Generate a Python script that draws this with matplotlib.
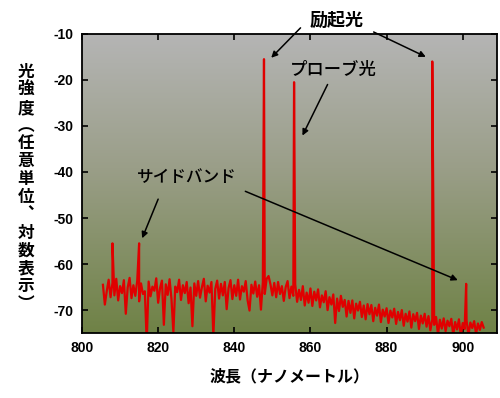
import numpy as np
import matplotlib
matplotlib.use("Agg")
import matplotlib.pyplot as plt
from matplotlib.colors import LinearSegmentedColormap

plt.rcParams['axes.unicode_minus'] = False
JP = ['Noto Sans CJK JP', 'DejaVu Sans']
NUM = ['Liberation Sans', 'DejaVu Sans']

# spectrum background, 0.5 nm steps from 805.5 to 905.5 nm (dB)
wl_start, wl_end = 805.5, 905.5
spec_db = [
    -64.5, -68.8, -65.9, -63.4, -67.2, -64.1, -66.8, -63.2, -67.9, -64.8,
    -66.3, -63.5, -70.8, -65.1, -63.0, -67.4, -64.6, -66.9, -63.7, -68.1,
    -64.2, -66.5, -65.9, -77.0, -63.8, -67.0, -64.9, -65.8, -63.1, -68.4,
    -65.2, -63.6, -73.2, -64.4, -66.7, -63.3, -67.6, -74.8, -64.9, -66.1,
    -63.4, -67.8, -64.6, -66.3, -63.9, -68.5, -65.1, -73.5, -64.2, -66.9,
    -63.7, -67.3, -65.0, -63.2, -68.1, -64.7, -66.2, -63.9, -75.6, -65.4,
    -63.6, -67.5, -64.3, -66.8, -63.9, -69.8, -65.2, -63.5, -67.6, -64.6,
    -66.9, -63.4, -67.7, -64.8, -66.0, -63.7, -67.9, -70.1, -64.5, -66.4,
    -63.8, -67.1, -64.6, -69.9, -63.9, -66.5, -63.2, -62.6, -64.4, -66.8,
    -64.1, -67.2, -63.9, -66.5, -64.8, -68.0, -65.0, -63.7, -67.4, -64.9,
    -66.9, -64.4, -68.2, -65.6, -67.8, -64.8, -69.0, -66.2, -68.4, -65.3,
    -69.1, -66.0, -67.9, -65.5, -69.4, -66.8, -68.3, -65.9, -70.0, -67.2,
    -68.8, -66.6, -72.8, -67.5, -70.2, -66.9, -69.3, -67.8, -71.4, -68.0,
    -70.6, -67.9, -71.8, -68.6, -70.1, -68.2, -71.5, -69.0, -72.0, -68.7,
    -70.9, -68.9, -72.4, -69.5, -71.2, -68.8, -72.6, -69.9, -71.4, -69.6,
    -72.8, -70.1, -71.6, -69.7, -73.0, -70.4, -72.2, -70.0, -73.4, -70.8,
    -72.5, -70.3, -73.8, -70.9, -72.4, -70.6, -74.1, -71.2, -72.9, -70.8,
    -73.6, -71.3, -74.4, -72.0, -73.2, -71.5, -75.3, -72.1, -74.0, -71.8,
    -74.6, -72.3, -73.5, -71.9, -75.4, -72.6, -74.2, -72.0, -75.6, -72.8,
    -74.1, -72.2, -75.5, -72.7, -73.9, -72.4, -75.2, -72.9, -74.3, -72.6,
    -73.8,
]

# sharp lines
peak_wl = [808.0, 815.0, 847.8, 855.7, 892.0, 900.9]
peak_db = [-55.5, -55.5, -15.5, -20.5, -16.0, -64.3]

xticks = [800, 820, 840, 860, 880, 900]
yticks = [-10, -20, -30, -40, -50, -60, -70]

ylabel_chars = ['光', '強', '度', '︵', '任', '意', '単', '位', '︑',
                '対', '数', '表', '示', '︶']


def main():
    wl = np.linspace(wl_start, wl_end, len(spec_db))
    all_wl = np.concatenate([wl, peak_wl])
    all_db = np.concatenate([spec_db, peak_db])
    order = np.argsort(all_wl)

    fig = plt.figure(figsize=(5, 3.98), dpi=100)
    ax = fig.add_axes([0.164, 0.163, 0.83, 0.752])
    ax.set_xlim(800, 909)
    ax.set_ylim(-75, -10)

    # grey -> olive background
    cmap = LinearSegmentedColormap.from_list(
        'bg', [(0.0, '#6f8246'), (0.55, '#9a9e88'), (1.0, '#b5b5b5')])
    grad = np.linspace(0, 1, 256).reshape(-1, 1)
    ax.imshow(grad, extent=[800, 909, -75, -10], origin='lower', aspect='auto',
              cmap=cmap, zorder=0)

    ax.plot(all_wl[order], all_db[order], color='#e00000', lw=1.6, zorder=2)

    ax.set_xticks(xticks)
    ax.set_yticks(yticks)
    ax.tick_params(direction='in', length=4, width=1.2, top=True, right=True,
                   pad=6)
    for lab in ax.get_xticklabels() + ax.get_yticklabels():
        lab.set_family(NUM)
        lab.set_fontweight('bold')
        lab.set_fontsize(10)
    for s in ax.spines.values():
        s.set_linewidth(1.3)

    # annotations
    arr = dict(arrowstyle='-|>', color='black', lw=1.1, mutation_scale=9,
               shrinkA=0, shrinkB=0)
    ax.text(866.8, -7.0, '励起光', family=JP, fontweight='bold', fontsize=13,
            ha='center', va='center', clip_on=False)
    ax.annotate('', xy=(849.7, -15.2), xytext=(857.4, -8.7), arrowprops=arr,
                annotation_clip=False)
    ax.annotate('', xy=(890.3, -15.0), xytext=(876.6, -9.6), arrowprops=arr,
                annotation_clip=False)

    ax.text(865.9, -17.8, 'プローブ光', family=JP, fontsize=12.5,
            fontweight='medium', ha='center', va='center')
    ax.annotate('', xy=(857.9, -32.1), xytext=(864.5, -21.0), arrowprops=arr)

    ax.text(827.6, -41.2, 'サイドバンド', family=JP, fontsize=12,
            fontweight='medium', ha='center', va='center')
    ax.annotate('', xy=(815.8, -54.4), xytext=(820.0, -45.9), arrowprops=arr)
    ax.annotate('', xy=(898.7, -63.5), xytext=(842.9, -44.2), arrowprops=arr)

    ax.set_xlabel('波長（ナノメートル）', family=JP, fontweight='bold',
                  fontsize=11.5, labelpad=9)

    # vertical y label, one upright character per row
    rows = [72, 90, 108, 126, 143, 161, 179, 197, 215, 233, 251, 268, 286, 304]
    for c, r in zip(ylabel_chars, rows):
        fig.text(26 / 500, 1 - r / 398, c, family=JP, fontweight='bold',
                 fontsize=12, ha='center', va='center')

    fig.savefig('out.png', dpi=100)
    plt.close(fig)


if __name__ == '__main__':
    main()
